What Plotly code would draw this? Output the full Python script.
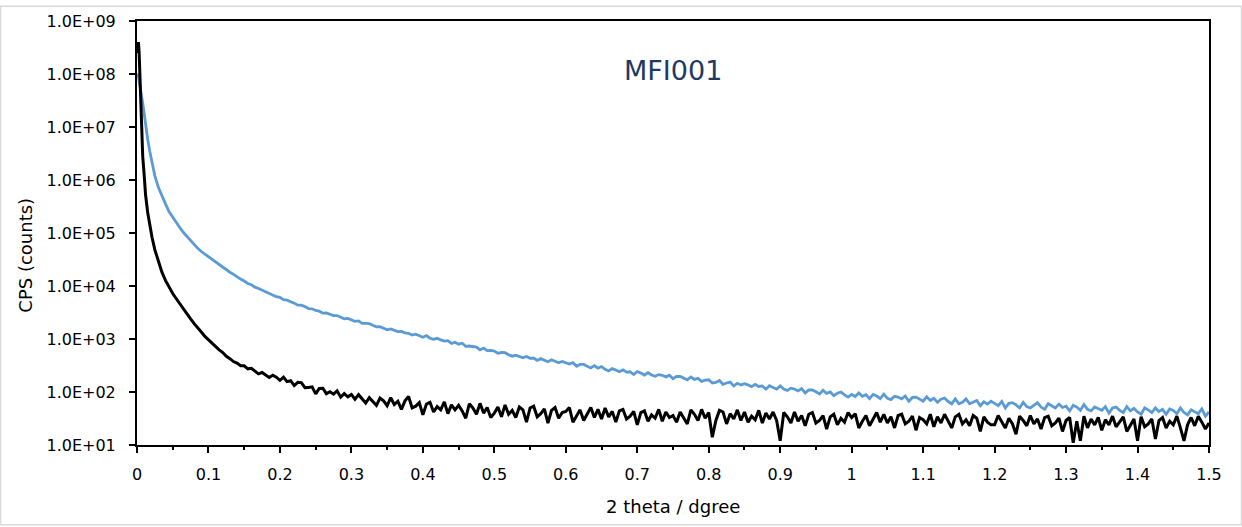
import plotly.graph_objects as go

# ---------------- data ----------------
two_theta = [
    0, 0.001, 0.002, 0.003, 0.004, 0.005, 0.006, 0.007, 0.008, 0.010,
    0.012, 0.015, 0.018, 0.021, 0.025, 0.030, 0.035, 0.040, 0.045,
    0.050, 0.055, 0.060, 0.065, 0.070, 0.075, 0.080, 0.085, 0.090, 0.095,
    0.100, 0.105, 0.110, 0.115, 0.120, 0.125, 0.130, 0.135, 0.140, 0.145,
    0.150, 0.155, 0.160, 0.165, 0.170, 0.175, 0.180, 0.185, 0.190, 0.195,
    0.200, 0.205, 0.210, 0.215, 0.220, 0.225, 0.230, 0.235, 0.240, 0.245,
    0.250, 0.255, 0.260, 0.265, 0.270, 0.275, 0.280, 0.285, 0.290, 0.295,
    0.300, 0.305, 0.310, 0.315, 0.320, 0.325, 0.330, 0.335, 0.340, 0.345,
    0.350, 0.355, 0.360, 0.365, 0.370, 0.375, 0.380, 0.385, 0.390, 0.395,
    0.400, 0.405, 0.410, 0.415, 0.420, 0.425, 0.430, 0.435, 0.440, 0.445,
    0.450, 0.455, 0.460, 0.465, 0.470, 0.475, 0.480, 0.485, 0.490, 0.495,
    0.500, 0.505, 0.510, 0.515, 0.520, 0.525, 0.530, 0.535, 0.540, 0.545,
    0.550, 0.555, 0.560, 0.565, 0.570, 0.575, 0.580, 0.585, 0.590, 0.595,
    0.600, 0.605, 0.610, 0.615, 0.620, 0.625, 0.630, 0.635, 0.640, 0.645,
    0.650, 0.655, 0.660, 0.665, 0.670, 0.675, 0.680, 0.685, 0.690, 0.695,
    0.700, 0.705, 0.710, 0.715, 0.720, 0.725, 0.730, 0.735, 0.740, 0.745,
    0.750, 0.755, 0.760, 0.765, 0.770, 0.775, 0.780, 0.785, 0.790, 0.795,
    0.800, 0.805, 0.810, 0.815, 0.820, 0.825, 0.830, 0.835, 0.840, 0.845,
    0.850, 0.855, 0.860, 0.865, 0.870, 0.875, 0.880, 0.885, 0.890, 0.895,
    0.900, 0.905, 0.910, 0.915, 0.920, 0.925, 0.930, 0.935, 0.940, 0.945,
    0.950, 0.955, 0.960, 0.965, 0.970, 0.975, 0.980, 0.985, 0.990, 0.995,
    1.000, 1.005, 1.010, 1.015, 1.020, 1.025, 1.030, 1.035, 1.040, 1.045,
    1.050, 1.055, 1.060, 1.065, 1.070, 1.075, 1.080, 1.085, 1.090, 1.095,
    1.100, 1.105, 1.110, 1.115, 1.120, 1.125, 1.130, 1.135, 1.140, 1.145,
    1.150, 1.155, 1.160, 1.165, 1.170, 1.175, 1.180, 1.185, 1.190, 1.195,
    1.200, 1.205, 1.210, 1.215, 1.220, 1.225, 1.230, 1.235, 1.240, 1.245,
    1.250, 1.255, 1.260, 1.265, 1.270, 1.275, 1.280, 1.285, 1.290, 1.295,
    1.300, 1.305, 1.310, 1.315, 1.320, 1.325, 1.330, 1.335, 1.340, 1.345,
    1.350, 1.355, 1.360, 1.365, 1.370, 1.375, 1.380, 1.385, 1.390, 1.395,
    1.400, 1.405, 1.410, 1.415, 1.420, 1.425, 1.430, 1.435, 1.440, 1.445,
    1.450, 1.455, 1.460, 1.465, 1.470, 1.475, 1.480, 1.485, 1.490, 1.495,
    1.500,
]

cps_blue = [
    9.5e7, 1.0e8, 9.0e7, 7.6e7, 6.3e7, 5.2e7, 4.3e7, 3.5e7, 2.8e7, 1.8e7,
    1.1e7, 5.8e6, 3.4e6, 2.1e6, 1.2e6, 7.2e5, 4.8e5, 3.5e5, 2.5e5,
    195000, 155000, 126000, 102000, 85100, 70800, 60300, 51300, 44700, 39800,
    35500, 31600, 28200, 25100, 22400, 20400, 18200, 16600, 14800, 13500,
    12400, 11150, 10550, 9500, 8950, 8300, 7800, 7200, 6800, 6290,
    6100, 5500, 5400, 5130, 4750, 4360, 4340, 4080, 3750, 3710,
    3450, 3350, 3070, 3090, 2900, 2770, 2770, 2550, 2400, 2440,
    2300, 2160, 2190, 1970, 1970, 1950, 1810, 1700, 1710, 1600,
    1490, 1550, 1450, 1380, 1390, 1310, 1280, 1190, 1230, 1160,
    1080, 1160, 1035, 983, 1030, 964, 912, 928, 824, 867,
    798, 831, 728, 737, 731, 705, 625, 673, 603, 608,
    590, 537, 556, 552, 503, 474, 496, 470, 443, 468,
    432, 437, 394, 426, 405, 373, 405, 373, 355, 376,
    360, 336, 359, 307, 332, 331, 307, 285, 315, 281,
    302, 268, 249, 276, 259, 241, 261, 237, 241, 214,
    242, 229, 209, 231, 209, 198, 213, 207, 193, 207,
    178, 197, 196, 185, 170, 192, 173, 181, 159, 168,
    170, 148, 151, 165, 140, 148, 154, 130, 146, 136,
    143, 136, 126, 139, 127, 130, 113, 131, 123, 113,
    130, 114, 107, 118, 114, 105, 116, 96, 109, 109,
    101, 92, 108, 94, 100, 85, 95, 100, 88, 80,
    90, 82, 96, 83, 89, 75, 90, 84, 75, 91,
    76, 72, 83, 80, 74, 84, 67, 79, 80, 73,
    67, 81, 69, 76, 64, 73, 77, 66, 60, 74,
    60, 64, 74, 60, 65, 69, 55, 65, 59, 67,
    61, 55, 66, 50, 61, 63, 57, 50, 64, 53,
    50, 56, 63, 52, 47, 60, 55, 50, 59, 51,
    54, 44, 56, 52, 45, 58, 47, 44, 52, 49,
    45, 53, 40, 50, 52, 45, 41, 53, 44, 49,
    42, 38, 50, 46, 41, 50, 43, 47, 38, 48,
    45, 39, 50, 41, 37, 46, 43, 39, 48, 35,
    42,
]

cps_black = [
    2.5e8, 3.5e8, 4.0e8, 2.5e8, 1.0e8, 3.2e7, 1.0e7, 4.5e6, 2.8e6, 1.26e6,
    5.2e5, 2.4e5, 1.3e5, 8.3e4, 4.8e4, 2.8e4, 1.8e4, 1.26e4, 9300,
    7200, 5750, 4570, 3720, 2950, 2400, 1950, 1580, 1350, 1120,
    960, 825, 735, 625, 555, 472, 425, 375, 350, 312,
    313, 274, 281, 247, 220, 233, 212, 188, 207, 190,
    166, 190, 157, 164, 132, 152, 150, 121, 122, 125,
    92, 117, 118, 93, 101, 91, 105, 80, 93, 81,
    90, 73, 89, 75, 62, 78, 67, 56, 77, 68,
    55, 78, 58, 67, 47, 68, 82, 50, 54, 63,
    37, 59, 64, 42, 53, 46, 65, 39, 57, 46,
    56, 44, 32, 60, 50, 38, 61, 40, 51, 33,
    40, 52, 34, 57, 38, 45, 33, 52, 46, 27,
    50, 54, 34, 39, 48, 26, 45, 51, 32, 41,
    43, 51, 27, 36, 46, 29, 39, 51, 33, 47,
    31, 50, 34, 43, 27, 44, 47, 31, 35, 43,
    24, 41, 44, 28, 37, 32, 47, 28, 42, 33,
    36, 27, 42, 33, 25, 46, 38, 29, 47, 32,
    41, 14, 29, 45, 42, 25, 39, 31, 46, 29,
    42, 27, 35, 30, 45, 26, 40, 31, 42, 29,
    12, 41, 34, 26, 42, 28, 36, 23, 38, 41,
    26, 29, 36, 20, 34, 38, 24, 32, 27, 41,
    33, 39, 21, 28, 36, 23, 31, 41, 27, 38,
    26, 34, 21, 36, 38, 25, 28, 35, 19, 33,
    30, 25, 38, 22, 34, 26, 38, 29, 21, 34,
    38, 25, 30, 23, 36, 32, 18, 34, 27, 24,
    24, 36, 28, 21, 32, 25, 16, 35, 29, 23,
    36, 25, 31, 20, 33, 35, 23, 26, 32, 18,
    29, 33, 11, 28, 12, 35, 21, 31, 24, 33,
    19, 30, 24, 35, 22, 28, 34, 18, 24, 31,
    12, 34, 22, 25, 31, 13, 29, 33, 21, 28,
    24, 35, 21, 12, 24, 33, 23, 35, 27, 20,
    26,
]

assert len(two_theta) == len(cps_blue) == len(cps_black)

y_tick_values = [1e1, 1e2, 1e3, 1e4, 1e5, 1e6, 1e7, 1e8, 1e9]
y_tick_labels = ["1.0E+01", "1.0E+02", "1.0E+03", "1.0E+04", "1.0E+05",
                 "1.0E+06", "1.0E+07", "1.0E+08", "1.0E+09"]
x_tick_values = [0, 0.1, 0.2, 0.3, 0.4, 0.5, 0.6, 0.7, 0.8, 0.9,
                 1.0, 1.1, 1.2, 1.3, 1.4, 1.5]
x_tick_labels = ["0", "0.1", "0.2", "0.3", "0.4", "0.5", "0.6", "0.7", "0.8",
                 "0.9", "1", "1.1", "1.2", "1.3", "1.4", "1.5"]
x_minor_tick_values = [0.05, 0.15, 0.25, 0.35, 0.45, 0.55, 0.65, 0.75,
                       0.85, 0.95, 1.05, 1.15, 1.25, 1.35, 1.45]

chart_title = "MFI001"
x_title = "2 theta / dgree"
y_title = "CPS (counts)"

# ---------------- figure ----------------
W, H = 1242, 527
ML, MR, MT, MB = 137, 33, 15, 82
PW, PH = W - ML - MR, H - MT - MB

fig = go.Figure()
fig.add_trace(go.Scatter(x=two_theta, y=cps_blue, mode="lines",
                         line=dict(color="#5B9BD5", width=2.8), name="blue"))
fig.add_trace(go.Scatter(x=two_theta, y=cps_black, mode="lines",
                         line=dict(color="#000000", width=3), name="black"))

fig.update_layout(
    width=W, height=H,
    margin=dict(l=ML, r=MR, t=MT, b=MB, pad=0),
    paper_bgcolor="white", plot_bgcolor="white",
    showlegend=False,
    font=dict(family="DejaVu Sans", size=16, color="#000000"),
)

fig.update_xaxes(
    range=[0, 1.5], tickmode="array", tickvals=x_tick_values, ticktext=x_tick_labels,
    ticks="outside", ticklen=6, tickwidth=1.5, tickcolor="black",
    minor=dict(tickmode="array", tickvals=x_minor_tick_values, ticks="outside",
               ticklen=3, tickwidth=1.5, tickcolor="black", showgrid=False),
    showline=True, linecolor="black", linewidth=2, mirror=True,
    showgrid=False, zeroline=False, ticklabelstandoff=8,
    tickfont=dict(family="DejaVu Sans", size=16, color="#000000"),
)
fig.update_yaxes(
    type="log", range=[1, 9], tickmode="array", tickvals=y_tick_values,
    ticktext=y_tick_labels,
    ticks="outside", ticklen=6, tickwidth=1.5, tickcolor="black",
    showline=True, linecolor="black", linewidth=2, mirror=True,
    showgrid=False, zeroline=False, ticklabelstandoff=10,
    tickfont=dict(family="DejaVu Sans", size=16, color="#000000"),
)

# titles
fig.add_annotation(text=chart_title, xref="paper", yref="paper",
                   x=0.5, y=(445.5 - 66) / PH, xanchor="center", yanchor="middle",
                   showarrow=False, font=dict(family="DejaVu Sans", size=27, color="#1F3864"))
fig.add_annotation(text=x_title, xref="paper", yref="paper",
                   x=0.5, y=(445.5 - 508) / PH, xanchor="center", yanchor="middle",
                   showarrow=False, font=dict(family="DejaVu Sans", size=18, color="#000000"))
fig.add_annotation(text=y_title, xref="paper", yref="paper",
                   x=(26 - ML) / PW, y=(445.5 - 253.5) / PH, xanchor="center", yanchor="middle",
                   textangle=-90, showarrow=False,
                   font=dict(family="DejaVu Sans", size=18, color="#000000"))

# light grey chart-area border
fig.add_shape(type="rect", xref="paper", yref="paper",
              x0=(0.5 - ML) / PW, x1=(W - 0.5 - ML) / PW,
              y0=(445.5 - (H - 0.5)) / PH, y1=(445.5 - 0.5) / PH,
              line=dict(color="#D9D9D9", width=1.5), fillcolor="rgba(0,0,0,0)", layer="below")

fig.write_html("out.html")
